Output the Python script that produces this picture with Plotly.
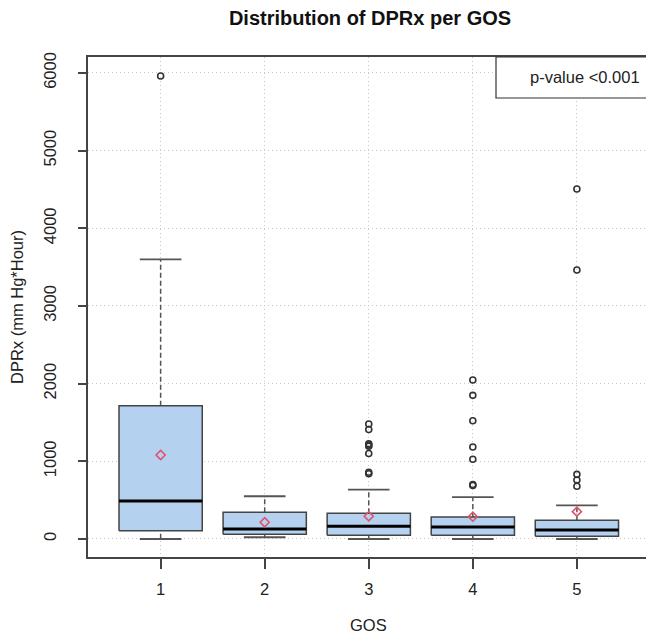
import plotly.graph_objects as go

# ---- data ----
groups = [1, 2, 3, 4, 5]
q1 = [107, 60, 48, 48, 35]
medians = [489, 129, 163, 154, 116]
q3 = [1716, 343, 331, 283, 240]
whisker_low = [0, 22, 0, 0, 0]
whisker_high = [3600, 550, 635, 540, 433]
means = [1081, 215, 292, 287, 352]
outliers = {
    1: [5960],
    2: [],
    3: [1480, 1410, 1225, 1210, 1195, 1100, 860, 840],
    4: [2046, 1849, 1523, 1184, 1026, 700, 690],
    5: [4505, 3462, 832, 759, 678],
}
y_ticks = [0, 1000, 2000, 3000, 4000, 5000, 6000]
title = "Distribution of DPRx per GOS"
y_label = "DPRx (mm Hg*Hour)"
x_label = "GOS"
p_text = "p-value <0.001"

BOX_HALF = 0.4
CAP_HALF = 0.2
FILL = "#B4D2F0"
EDGE = "#444444"
WHISK = "#555555"
FONT = "Liberation Sans, Arial, sans-serif"
FS = 16.5

fig = go.Figure()

for i, g in enumerate(groups):
    # whiskers (dashed)
    fig.add_trace(go.Scatter(
        x=[g, g, None, g, g],
        y=[whisker_low[i], q1[i], None, q3[i], whisker_high[i]],
        mode="lines", line=dict(color=WHISK, width=1.5, dash="5px,3px"),
        hoverinfo="skip", showlegend=False))
    # caps
    fig.add_trace(go.Scatter(
        x=[g - CAP_HALF, g + CAP_HALF, None, g - CAP_HALF, g + CAP_HALF],
        y=[whisker_low[i], whisker_low[i], None, whisker_high[i], whisker_high[i]],
        mode="lines", line=dict(color=WHISK, width=1.8),
        hoverinfo="skip", showlegend=False))
    # box
    fig.add_trace(go.Scatter(
        x=[g - BOX_HALF, g + BOX_HALF, g + BOX_HALF, g - BOX_HALF, g - BOX_HALF],
        y=[q1[i], q1[i], q3[i], q3[i], q1[i]],
        mode="lines", fill="toself", fillcolor=FILL,
        line=dict(color=EDGE, width=1.5),
        hoverinfo="skip", showlegend=False))
    # median
    fig.add_trace(go.Scatter(
        x=[g - BOX_HALF, g + BOX_HALF], y=[medians[i], medians[i]],
        mode="lines", line=dict(color="black", width=3),
        hoverinfo="skip", showlegend=False))
    # outliers
    if outliers[g]:
        fig.add_trace(go.Scatter(
            x=[g] * len(outliers[g]), y=outliers[g], mode="markers",
            marker=dict(symbol="circle-open", size=6, color="#333333",
                        line=dict(width=1.6, color="#333333")),
            showlegend=False))

# means
fig.add_trace(go.Scatter(
    x=groups, y=means, mode="markers",
    marker=dict(symbol="diamond-open", size=7, color="#DF536B",
                line=dict(width=1.6, color="#DF536B")),
    showlegend=False))

GRID = dict(showgrid=True, gridcolor="#c8c8c8", griddash="1px,3px", gridwidth=1)

fig.update_layout(
    width=646, height=634,
    margin=dict(l=88, r=0, t=57, b=77),
    paper_bgcolor="white", plot_bgcolor="white",
    font=dict(family=FONT, size=FS, color="#222222"),
    showlegend=False,
    title=dict(text="<b>" + title + "</b>", x=370 / 646, xref="container",
               xanchor="center", y=1 - 18 / 634, yref="container",
               yanchor="middle", font=dict(size=20, color="#111111")),
    xaxis=dict(range=[0.302, 5.664], tickmode="array", tickvals=groups,
               ticktext=[str(g) for g in groups], **GRID,
               showline=True, linecolor="#444444", linewidth=1.5, mirror=True,
               ticks="outside", ticklen=10, tickwidth=1.5, tickcolor="#444444",
               ticklabelstandoff=6,
               zeroline=False, tickfont=dict(size=FS)),
    yaxis=dict(range=[-232, 6205], tickmode="array", tickvals=y_ticks,
               ticktext=[str(v) for v in y_ticks], tickangle=-90, **GRID,
               showline=True, linecolor="#444444", linewidth=1.5,
               ticks="outside", ticklen=8, tickwidth=1.5, tickcolor="#444444",
               ticklabelstandoff=16,
               zeroline=False, tickfont=dict(size=FS)),
    shapes=[dict(type="rect", xref="paper", yref="paper",
                 x0=(496 - 88) / 558, x1=1.02, y0=(557 - 98) / 500, y1=1.0,
                 line=dict(color="#333333", width=1.2), fillcolor="white",
                 layer="above")],
    annotations=[
        dict(text=p_text, xref="paper", yref="paper", x=(585 - 88) / 558,
             y=(557 - 77) / 500, xanchor="center", yanchor="middle",
             showarrow=False, font=dict(size=FS, color="#222222")),
        dict(text=y_label, xref="paper", yref="paper", x=(17 - 88) / 558,
             y=0.5, xanchor="center", yanchor="middle", textangle=-90,
             showarrow=False, font=dict(size=FS, color="#222222")),
        dict(text=x_label, xref="paper", yref="paper", x=(368 - 88) / 558,
             y=(557 - 625) / 500, xanchor="center", yanchor="middle",
             showarrow=False, font=dict(size=FS, color="#222222")),
    ],
)

fig.write_html("out.html",
               config={"displayModeBar": False},
               post_script="document.body.style.margin='0px';")
